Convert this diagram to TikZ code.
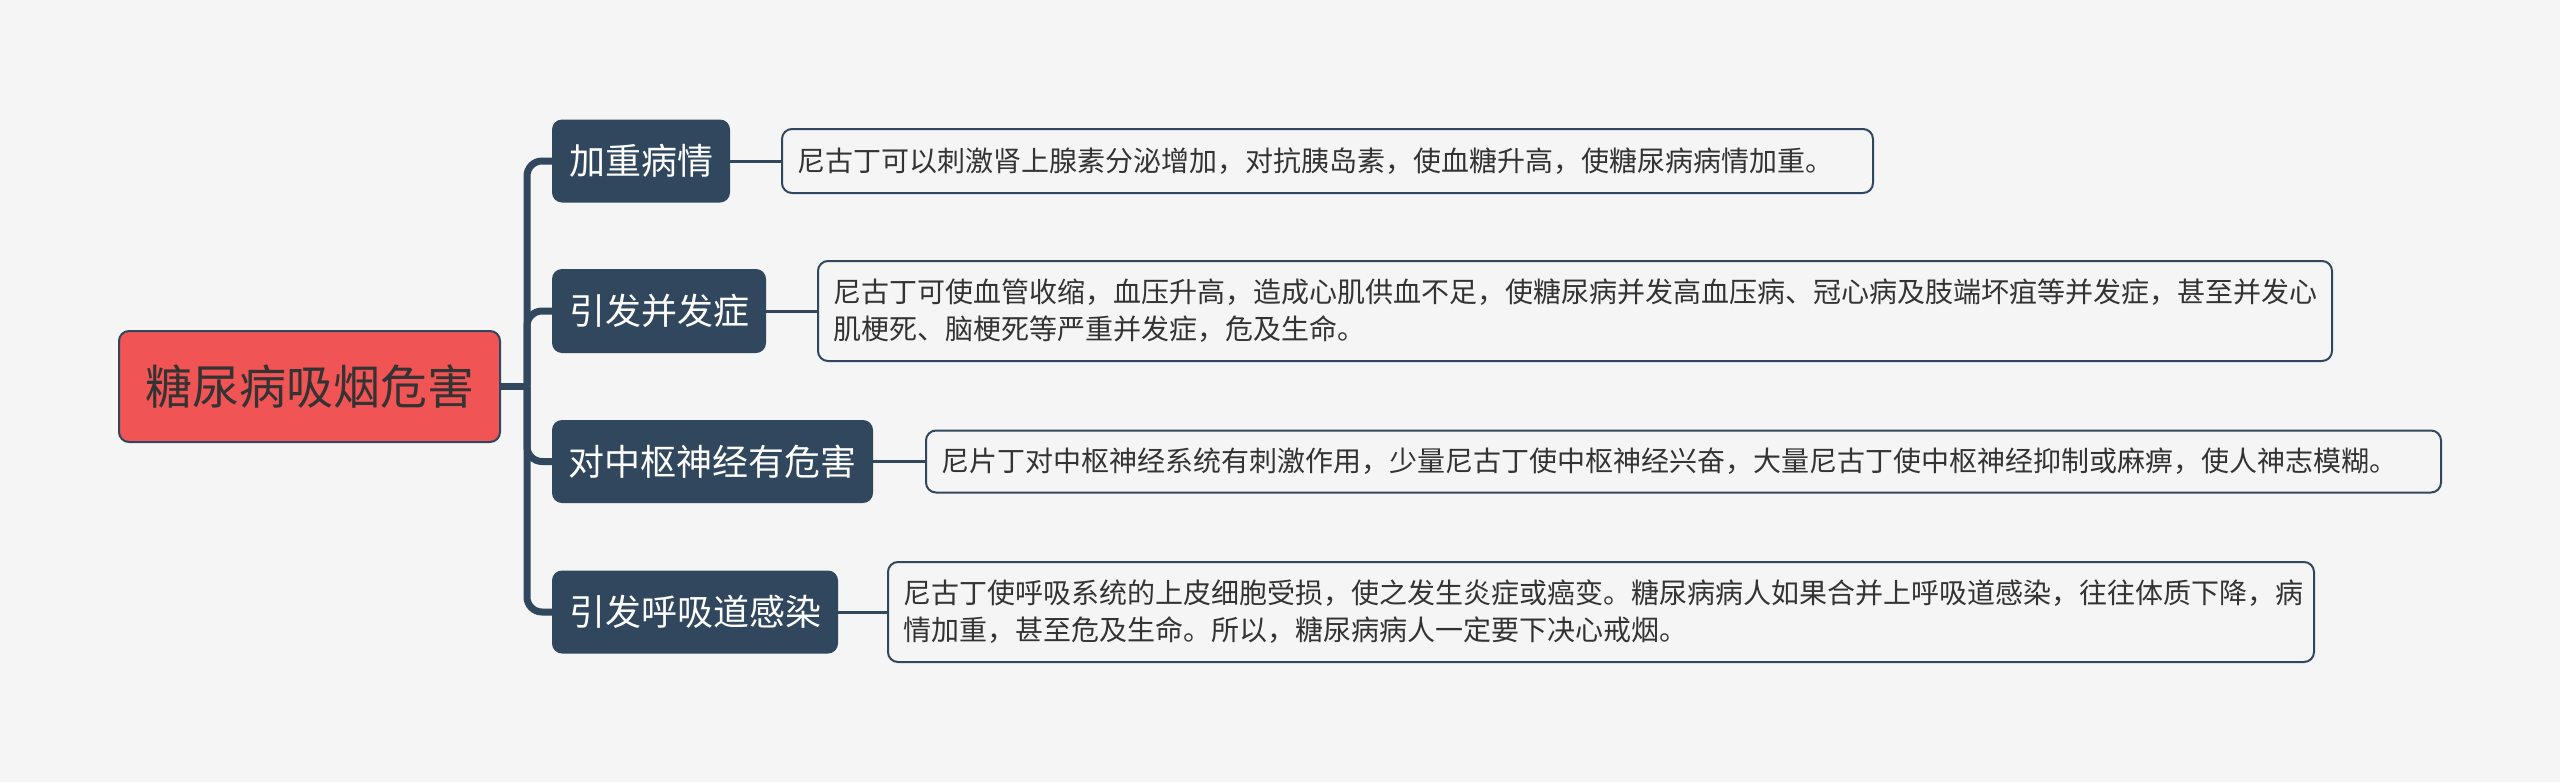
\documentclass[tikz,border=0pt]{standalone}
\usepackage{fontspec}
\setmainfont{Noto Sans CJK SC}
\definecolor{bgc}{HTML}{F5F5F5}
\definecolor{navy}{HTML}{30475E}
\definecolor{rootred}{HTML}{F05454}
\definecolor{txt}{HTML}{333333}
\tikzset{
  rootbox/.style={draw=navy, line width=2pt, fill=rootred, rounded corners=10pt, inner sep=0pt,
    text=txt, font=\fontsize{47pt}{56pt}\selectfont},
  branchbox/.style={fill=navy, rounded corners=10pt, inner sep=0pt, text=white,
    font=\fontsize{36pt}{44pt}\selectfont},
  leafbox/.style={draw=navy, line width=2pt, fill=bgc, rounded corners=10pt, inner xsep=15pt, inner ysep=0pt,
    align=left, text=txt, font=\fontsize{28pt}{37pt}\selectfont},
  trunk/.style={draw=navy, line width=7pt, rounded corners=15pt},
  twig/.style={draw=navy, line width=3pt},
}
\begin{document}
\begin{tikzpicture}[x=1pt,y=-1pt]
\useasboundingbox[fill=bgc] (0,0) rectangle (2560,782);
\node[rootbox, minimum width=381pt, minimum height=111pt] (root) at (309.5,386.5) {糖尿病吸烟危害};
\coordinate (hub) at (527,386.5);
\node[branchbox, minimum width=178pt, minimum height=83pt] (b1) at (641,161) {加重病情};
\node[branchbox, minimum width=214pt, minimum height=84pt] (b2) at (659,311) {引发并发症};
\node[branchbox, minimum width=321pt, minimum height=83pt] (b3) at (712.5,461.5) {对中枢神经有危害};
\node[branchbox, minimum width=286pt, minimum height=83pt] (b4) at (695,612) {引发呼吸道感染};
\node[leafbox, text width=1061pt, minimum height=64pt] (l1) at (1327.5,161) {尼古丁可以刺激肾上腺素分泌增加，对抗胰岛素，使血糖升高，使糖尿病病情加重。};
\node[leafbox, text width=1484pt, minimum height=100pt] (l2) at (1575,311) {尼古丁可使血管收缩，血压升高，造成心肌供血不足，使糖尿病并发高血压病、冠心病及肢端坏疽等并发症，甚至并发心\\肌梗死、脑梗死等严重并发症，危及生命。};
\node[leafbox, text width=1485pt, minimum height=62pt] (l3) at (1683.5,461.5) {尼片丁对中枢神经系统有刺激作用，少量尼古丁使中枢神经兴奋，大量尼古丁使中枢神经抑制或麻痹，使人神志模糊。};
\node[leafbox, text width=1396pt, minimum height=100pt] (l4) at (1601,612) {尼古丁使呼吸系统的上皮细胞受损，使之发生炎症或癌变。糖尿病病人如果合并上呼吸道感染，往往体质下降，病\\情加重，甚至危及生命。所以，糖尿病病人一定要下决心戒烟。};
\draw[trunk] (root.east) -- (hub);
\draw[trunk] (hub) |- (b1.west);
\draw[trunk] (hub) |- (b2.west);
\draw[trunk] (hub) |- (b3.west);
\draw[trunk] (hub) |- (b4.west);
\draw[twig] (b1.east) -- (l1.west);
\draw[twig] (b2.east) -- (l2.west);
\draw[twig] (b3.east) -- (l3.west);
\draw[twig] (b4.east) -- (l4.west);
\end{tikzpicture}
\end{document}
